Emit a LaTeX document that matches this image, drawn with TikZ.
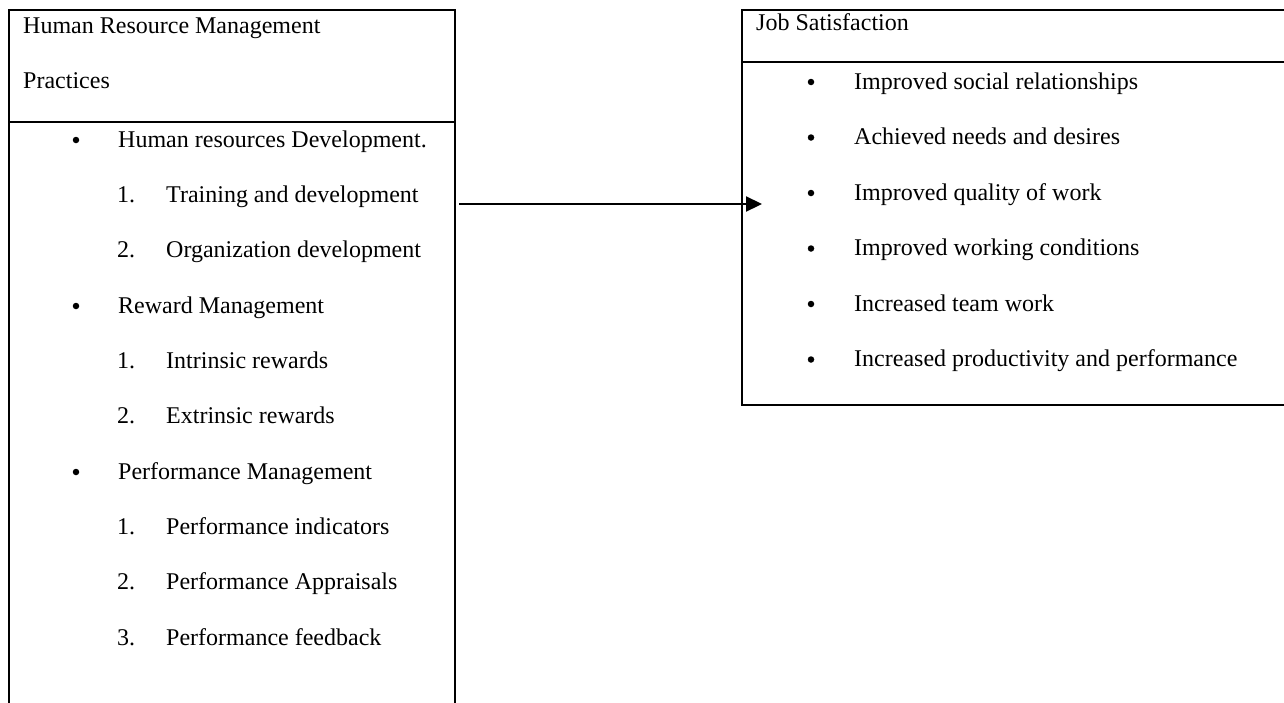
\documentclass[tikz,border=0pt]{standalone}
\usepackage{fontspec}
\setmainfont{Liberation Serif}
\usetikzlibrary{arrows.meta}
\begin{document}
\begin{tikzpicture}[x=1pt,y=-1pt,
  boxline/.style={line width=2.2pt, line cap=rect},
  txt/.style={anchor=base west, inner sep=0pt, font=\fontsize{24}{28}\selectfont},
  bul/.style={circle, fill=black, inner sep=0pt, minimum size=6.5pt},
  conn/.style={line width=2.2pt, -{Triangle[length=16pt,width=15pt]}}]
\useasboundingbox (0,0) rectangle (1284,702);
\fill[white] (0,0) rectangle (1284,702);
% left box
\draw[boxline] (9,712) -- (9,10) -- (455,10) -- (455,712);
\draw[boxline] (9,122) -- (455,122);
% right box
\draw[boxline] (1290,10) -- (742,10) -- (742,405) -- (1290,405);
\draw[boxline] (742,62) -- (1290,62);
% left texts
\node[txt] (lt1) at (23,33) {Human Resource Management};
\node[txt] (lt2) at (23,88) {Practices};
\node[bul] (lb1) at (76,140) {};
\node[txt] (l1) at (118,147) {Human resources Development.};
\node[txt] (ln1) at (117,202) {1.};
\node[txt] (l2) at (166,202) {Training and development};
\node[txt] (ln2) at (117,257.5) {2.};
\node[txt] (l3) at (166,257.5) {Organization development};
\node[bul] (lb2) at (76,306) {};
\node[txt] (l4) at (118,313) {Reward Management};
\node[txt] (ln3) at (117,368) {1.};
\node[txt] (l5) at (166,368) {Intrinsic rewards};
\node[txt] (ln4) at (117,423.5) {2.};
\node[txt] (l6) at (166,423.5) {Extrinsic rewards};
\node[bul] (lb3) at (76,472) {};
\node[txt] (l7) at (118,479) {Performance Management};
\node[txt] (ln5) at (117,534) {1.};
\node[txt] (l8) at (166,534) {Performance indicators};
\node[txt] (ln6) at (117,589.5) {2.};
\node[txt] (l9) at (166,589.5) {Performance Appraisals};
\node[txt] (ln7) at (117,645) {3.};
\node[txt] (l10) at (166,645) {Performance feedback};
% right texts
\node[txt] (rt) at (756,30) {Job Satisfaction};
\node[bul] (rb1) at (811,82) {};
\node[txt] (r1) at (854,89) {Improved social relationships};
\node[bul] (rb2) at (811,137.5) {};
\node[txt] (r2) at (854,144.5) {Achieved needs and desires};
\node[bul] (rb3) at (811,193) {};
\node[txt] (r3) at (854,200) {Improved quality of work};
\node[bul] (rb4) at (811,248.5) {};
\node[txt] (r4) at (854,255.5) {Improved working conditions};
\node[bul] (rb5) at (811,304) {};
\node[txt] (r5) at (854,311) {Increased team work};
\node[bul] (rb6) at (811,359.5) {};
\node[txt] (r6) at (854,366.5) {Increased productivity and performance};
% connector
\coordinate (as) at (459,204);
\coordinate (ae) at (762,204);
\draw[conn] (as) -- (ae);
\end{tikzpicture}
\end{document}
